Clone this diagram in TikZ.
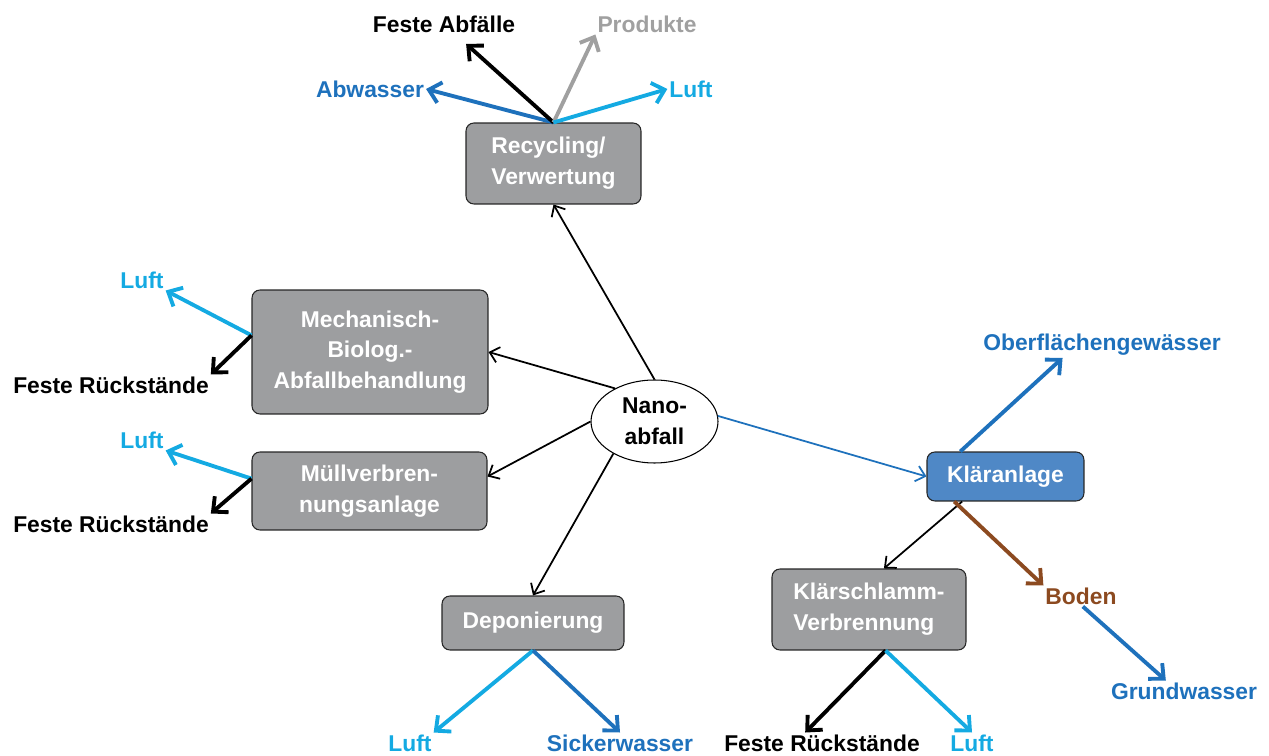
\documentclass[tikz,border=0pt]{standalone}
\usepackage{fontspec}
\setmainfont{Liberation Sans}
\usetikzlibrary{arrows.meta,shapes.geometric}
\definecolor{boxgray}{RGB}{157,158,160}
\definecolor{klblue}{RGB}{79,136,198}
\definecolor{wasserblue}{RGB}{30,113,188}
\definecolor{luftblue}{RGB}{20,170,226}
\definecolor{prodgray}{RGB}{160,160,160}
\definecolor{bodenbrown}{RGB}{140,74,32}
\begin{document}
\begin{tikzpicture}[x=0.02cm, y=-0.02cm,
        font=\fontsize{13}{17.5}\selectfont\bfseries,
        stage/.style={draw=black!85, fill=boxgray, text=white, rounded corners=4.5pt, line width=0.6pt, inner sep=0pt},
        sink/.style={inner sep=1pt},
        feed/.style={-{Straight Barb[length=5pt,width=9pt]}, line width=1pt},
        flow/.style={-{Straight Barb[length=6.5pt,width=12pt]}, line width=2.2pt}]
        \useasboundingbox (0,0) rectangle (1269,756);

        \node[draw, ellipse, line width=0.6pt, minimum width=2.54cm, minimum height=1.66cm, inner sep=0pt, align=center] (nano) at (654.5,421.5) {Nano-\\abfall};
        \node[stage, minimum width=3.5cm, minimum height=1.62cm, align=left] (rec) at (553.5,163.5) {Recycling/\\Verwertung};
        \node[stage, minimum width=4.72cm, minimum height=2.48cm, align=center] (mba) at (370,352) {Mechanisch-\\Biolog.-\\Abfallbehandlung};
        \node[stage, minimum width=4.7cm, minimum height=1.56cm, align=center] (mva) at (369.5,491) {Müllverbren-\\nungsanlage};
        \node[stage, minimum width=3.64cm, minimum height=1.08cm] (dep) at (533,623) {Deponierung};
        \node[stage, fill=klblue, minimum width=3.14cm, minimum height=0.98cm] (kla) at (1005.5,476.5) {Kläranlage};
        \node[stage, minimum width=3.88cm, minimum height=1.62cm, align=left] (ksv) at (869,609.5) {Klärschlamm-\\Verbrennung};

        \node[sink] (fab) at (444,24) {Feste Abfälle};
        \node[sink, text=prodgray] (prd) at (647,24) {Produkte};
        \node[sink, text=wasserblue] (abw) at (370,89) {Abwasser};
        \node[sink, text=luftblue] (luft1) at (691,89) {Luft};
        \node[sink, text=luftblue] (luft2) at (142,280) {Luft};
        \node[sink] (fr1) at (111,385) {Feste Rückstände};
        \node[sink, text=luftblue] (luft3) at (142,440) {Luft};
        \node[sink] (fr2) at (111,524) {Feste Rückstände};
        \node[sink, text=luftblue] (luft4) at (410,743) {Luft};
        \node[sink, text=wasserblue] (sick) at (620,743) {Sickerwasser};
        \node[sink] (fr3) at (822,743) {Feste Rückstände};
        \node[sink, text=luftblue] (luft5) at (972,743) {Luft};
        \node[sink, text=wasserblue] (ogw) at (1102,345) {Oberflächengewässer};
        \node[sink, text=bodenbrown] (bod) at (1081,596) {Boden};
        \node[sink, text=wasserblue] (gw) at (1184,691) {Grundwasser};

        \path
            (nano.north) edge[feed] (rec.south)
            (nano.140) edge[feed] (mba.east)
            (nano.west) edge[feed] (mva.7)
            (nano.-142) edge[feed] (dep.north)
            (kla.-150) edge[feed] (ksv.70)
            (nano.5) edge[feed, wasserblue] (kla.west)
        ;

        \draw[flow, wasserblue] (rec.north) -- (abw.east);
        \draw[flow, shorten >=8pt] (rec.north) -- (fab);
        \draw[flow, prodgray] (rec.north) -- (prd.south west);
        \draw[flow, luftblue] (rec.north) -- (luft1.west);
        \draw[flow, luftblue] (mba.172) -- (luft2.south east);
        \draw[flow] (mba.172) -- (fr1.north east);
        \draw[flow, luftblue] (mva.174) -- (luft3.south east);
        \draw[flow] (mva.174) -- (fr2.north east);
        \draw[flow, luftblue] (dep.south) -- (luft4.north east);
        \draw[flow, wasserblue] (dep.south) -- (sick.north);
        \draw[flow] (ksv.-68) -- (fr3.148);
        \draw[flow, luftblue] (ksv.-68) -- (luft5.north);
        \draw[flow, wasserblue] (kla.151) -- (ogw.-162);
        \draw[flow, bodenbrown] (kla.-154) -- (bod.north west);
        \draw[flow, wasserblue] (bod.-80) -- (gw.150);
    \end{tikzpicture}
\end{document}
